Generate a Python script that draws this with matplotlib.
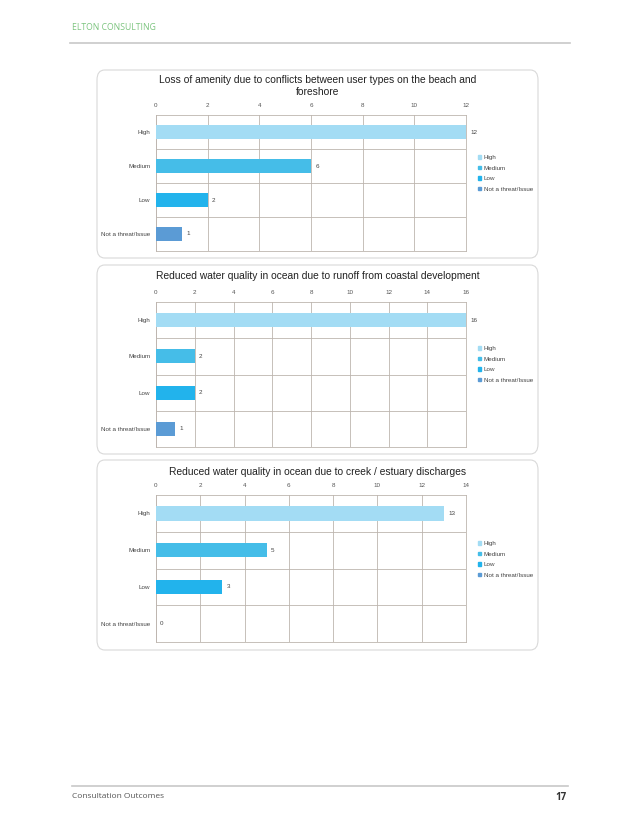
import matplotlib
matplotlib.use("Agg")
import numpy as np
import matplotlib.pyplot as plt
from matplotlib.patches import FancyBboxPatch, Patch
from matplotlib.lines import Line2D

plt.rcParams['font.family'] = ['Liberation Sans', 'DejaVu Sans']

categories = ["High", "Medium", "Low", "Not a threat/Issue"]
colors = ["#A3DCF4", "#45BDE8", "#22B3EC", "#5B9BD5"]

titles = ["Loss of amenity due to conflicts between user types on the beach and\nforeshore",
          "Reduced water quality in ocean due to runoff from coastal development",
          "Reduced water quality in ocean due to creek / estuary discharges"]
values_amenity = [12, 6, 2, 1]
values_runoff = [16, 2, 2, 1]
values_creek = [13, 5, 3, 0]
xmax = [12, 16, 14]

W, H = 637, 824
fig = plt.figure(figsize=(W/100, H/100), dpi=100)

def fx(px): return px / W
def fy(py): return 1 - py / H

# page header / footer
fig.text(fx(72), fy(27), "ELTON CONSULTING", fontsize=6.2, color="#7CC47F", va="center",
         family=["Open Sans", "DejaVu Sans"])
fig.add_artist(Line2D([fx(70), fx(570)], [fy(43), fy(43)], color="#C8C8C8", lw=1.2))
fig.add_artist(Line2D([fx(72), fx(568)], [fy(786), fy(786)], color="#C8C8C8", lw=1.2))
fig.text(fx(72), fy(797), "Consultation Outcomes", fontsize=6, color="#555555", va="center",
         family=["Open Sans", "DejaVu Sans"])
fig.text(fx(566), fy(797), "17", fontsize=7, color="#333333", va="center", ha="right",
         fontweight="bold", family=["Open Sans", "DejaVu Sans"])

# per chart layout in page pixels: box (top,bottom), title y, axes (top,bottom), legend top
layout = [
    dict(box=(70, 258), title=86, ax=(115, 251), leg=161),
    dict(box=(265, 454), title=276, ax=(302, 447), leg=352),
    dict(box=(460, 650), title=472, ax=(495, 642), leg=547),
]
series = [values_amenity, values_runoff, values_creek]

grid_c = "#BDB5AE"
for k in range(3):
    L = layout[k]
    bt, bb = L["box"]
    box = FancyBboxPatch((fx(97), fy(bb)), fx(538) - fx(97), fy(bt) - fy(bb),
                         boxstyle="round,pad=0,rounding_size=0.012",
                         transform=fig.transFigure, fc="white", ec="#D9D9D9", lw=0.8,
                         zorder=-5)
    fig.add_artist(box)
    fig.text(fx(318), fy(L["title"]), titles[k], ha="center", va="center",
             fontsize=7.4, color="#222222", linespacing=1.3)

    at, ab = L["ax"]
    ax = fig.add_axes([fx(156), fy(ab), fx(466) - fx(156), fy(at) - fy(ab)])
    ax.set_zorder(2)
    ax.patch.set_alpha(0)
    ax.set_axisbelow(True)
    vals = series[k]
    y = np.arange(len(categories))
    ax.barh(y, vals, height=0.39, color=colors, zorder=3)
    ax.set_xlim(0, xmax[k])
    ax.set_ylim(len(categories) - 0.5, -0.5)
    ax.set_xticks(np.arange(0, xmax[k] + 1, 2))
    ax.xaxis.tick_top()
    ax.tick_params(axis="x", length=0, labelsize=4.5, labelcolor="#555555", pad=5)
    ax.set_yticks(y)
    ax.set_yticklabels(categories)
    ax.tick_params(axis="y", length=0, labelsize=4.5, labelcolor="#444444", pad=4)
    ax.grid(axis="x", color=grid_c, lw=0.6, zorder=0)
    for b in np.arange(0.5, len(categories) - 0.5, 1):
        ax.axhline(b, color=grid_c, lw=0.6, zorder=0)
    for sp in ax.spines.values():
        sp.set_color(grid_c)
        sp.set_linewidth(0.6)
    for i, v in enumerate(vals):
        ax.annotate(str(v), (v, i), xytext=(3, 0), textcoords="offset points",
                    va="center", ha="left", fontsize=4.5, color="#444444")

    handles = [Patch(color=c, label=lab) for c, lab in zip(colors, categories)]
    fig.legend(handles=handles, loc="upper left",
               bbox_to_anchor=(fx(478), fy(L["leg"] - 6)), frameon=False,
               fontsize=4.5, handlelength=0.5, handleheight=0.5, handletextpad=0.4,
               labelspacing=0.9, borderaxespad=0, borderpad=0, labelcolor="#444444")

fig.savefig("out.png", dpi=100)
